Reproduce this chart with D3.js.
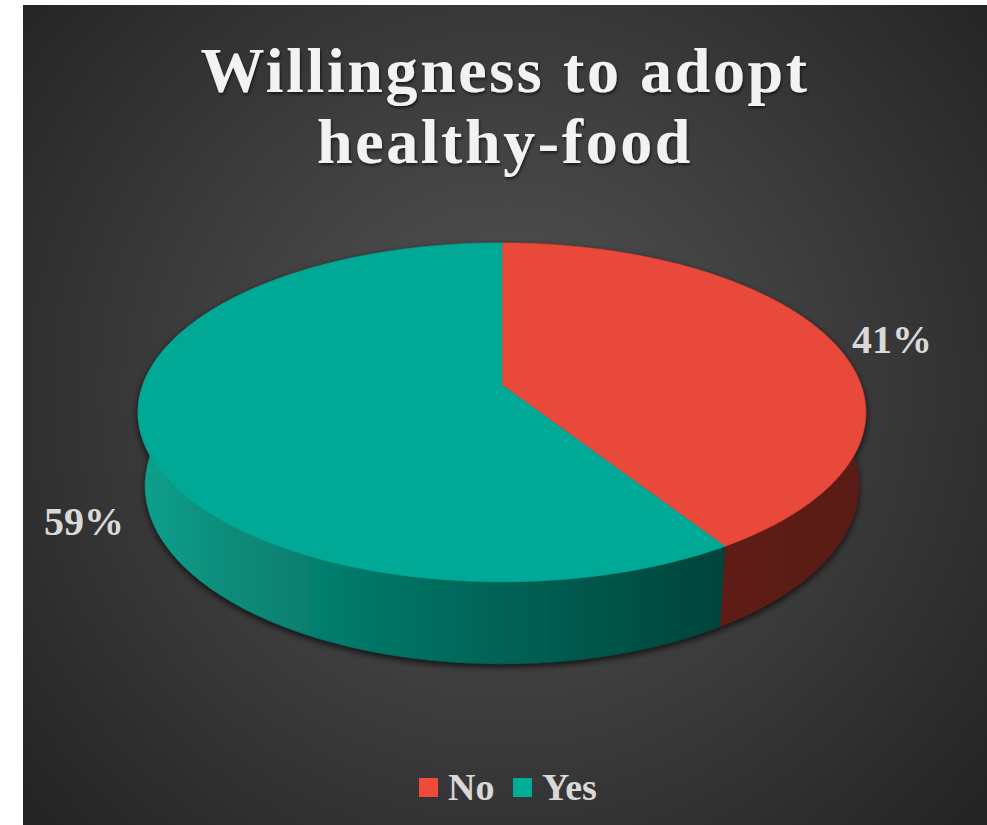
<!DOCTYPE html>
<html>
<head>
<meta charset="utf-8">
<script src="https://cdn.jsdelivr.net/npm/d3@7"></script>
<style>
  html, body { margin: 0; padding: 0; background: #ffffff; }
  svg { display: block; }
</style>
</head>
<body>
<svg id="chart" width="987" height="825"></svg>
<script>
// Survey answers and their shares (percent)
const categories = ["No", "Yes"];
const values = [41, 59];
const titleLines = ["Willingness to adopt", "healthy-food"];

const W = 987, H = 825;
const svg = d3.select("#chart");
const defs = svg.append("defs");

// Panel background: radial glow, lighter in the middle
const bg = defs.append("radialGradient").attr("id", "bgGlow")
  .attr("gradientUnits", "userSpaceOnUse")
  .attr("cx", 505).attr("cy", 390).attr("r", 620);
bg.append("stop").attr("offset", 0).attr("stop-color", "#555555");
bg.append("stop").attr("offset", 0.55).attr("stop-color", "#3b3b3b");
bg.append("stop").attr("offset", 1).attr("stop-color", "#252525");

svg.append("rect").attr("x", 23).attr("y", 5).attr("width", W - 23).attr("height", H - 5)
  .attr("fill", "url(#bgGlow)");

// Soft shadows
const sh = defs.append("filter").attr("id", "pieShadow")
  .attr("x", "-10%").attr("y", "-10%").attr("width", "120%").attr("height", "130%");
sh.append("feDropShadow").attr("dx", 0).attr("dy", 3).attr("stdDeviation", 3.5)
  .attr("flood-color", "#000").attr("flood-opacity", 0.75);
const tsh = defs.append("filter").attr("id", "textShadow")
  .attr("x", "-10%").attr("y", "-20%").attr("width", "120%").attr("height", "150%");
tsh.append("feDropShadow").attr("dx", 1).attr("dy", 2).attr("stdDeviation", 1.5)
  .attr("flood-color", "#000").attr("flood-opacity", 0.6);

// Colours per category
const color = d3.scaleOrdinal().domain(categories).range(["#e9483b", "#00a995"]);

// Side wall shading
const teal = defs.append("linearGradient").attr("id", "sideYes")
  .attr("gradientUnits", "userSpaceOnUse").attr("x1", 138).attr("x2", 730).attr("y1", 0).attr("y2", 0);
teal.append("stop").attr("offset", 0).attr("stop-color", "#12a28d");
teal.append("stop").attr("offset", 0.15).attr("stop-color", "#0a8c7a");
teal.append("stop").attr("offset", 0.55).attr("stop-color", "#00685a");
teal.append("stop").attr("offset", 1).attr("stop-color", "#00433a");
const red = defs.append("linearGradient").attr("id", "sideNo")
  .attr("gradientUnits", "userSpaceOnUse").attr("x1", 725).attr("x2", 866).attr("y1", 0).attr("y2", 0);
red.append("stop").attr("offset", 0).attr("stop-color", "#5e1e18");
red.append("stop").attr("offset", 1).attr("stop-color", "#5a1d17");
const sideFill = { No: "url(#sideNo)", Yes: "url(#sideYes)" };

// Perspective projection of the disc: angle measured clockwise from 12 o'clock,
// z = 0 for the top face, 1 for the bottom rim.
const P = { cx: 502, cy: 385, R: 359, A: 165, T: 74, k: 0.1616, m: 0.0194 };
function project(theta, z) {
  const u = Math.sin(theta), w = -Math.cos(theta);
  const s = 1 / (1 - P.k * w + P.m * z);
  return [P.cx + P.R * u * s, P.cy + (P.A * w + P.T * z) * s];
}
function arcPoints(a0, a1, z) {
  const n = Math.max(8, Math.ceil((a1 - a0) / 0.01));
  return d3.range(n + 1).map(i => project(a0 + (a1 - a0) * i / n, z));
}

const pie = d3.pie().sort(null).value(d => d.value).startAngle(0).endAngle(2 * Math.PI);
const arcs = pie(categories.map((c, i) => ({ cat: c, value: values[i] })));
const line = d3.line();

const g = svg.append("g").attr("filter", "url(#pieShadow)");

// Outer walls
arcs.forEach(a => {
  const top = arcPoints(a.startAngle, a.endAngle, 0);
  const bot = arcPoints(a.startAngle, a.endAngle, 1).reverse();
  g.append("path").attr("d", line(top.concat(bot)) + "Z")
    .attr("fill", sideFill[a.data.cat])
    .attr("stroke", sideFill[a.data.cat]).attr("stroke-width", 0.6);
});
// Top faces
arcs.forEach(a => {
  const pts = [[P.cx, P.cy]].concat(arcPoints(a.startAngle, a.endAngle, 0));
  g.append("path").attr("d", line(pts) + "Z")
    .attr("fill", color(a.data.cat))
    .attr("stroke", color(a.data.cat)).attr("stroke-width", 0.6);
});

// Percentage labels
const labelFont = "'Liberation Serif', 'Times New Roman', serif";
const labelPos = { No: [892, 353], Yes: [84, 535] };
arcs.forEach(a => {
  const [x, y] = labelPos[a.data.cat];
  svg.append("text").attr("x", x).attr("y", y).attr("text-anchor", "middle")
    .attr("font-family", labelFont).attr("font-weight", "bold").attr("font-size", 40)
    .attr("fill", "#d9d9d9")
    .text(d3.format(".0%")(a.data.value / d3.sum(values)));
});

// Title
svg.append("g").attr("filter", "url(#textShadow)")
  .selectAll("text").data(titleLines).join("text")
  .attr("x", 505).attr("y", (d, i) => 92 + i * 71).attr("text-anchor", "middle")
  .attr("font-family", labelFont).attr("font-weight", "bold").attr("font-size", 64)
  .attr("letter-spacing", 2.6)
  .attr("fill", "#f2f2f2").text(d => d);

// Legend
const legend = svg.append("g");
const legendX = [419, 513];
categories.forEach((c, i) => {
  legend.append("rect").attr("x", legendX[i]).attr("y", 778).attr("width", 19).attr("height", 19)
    .attr("fill", c === "No" ? "#f04a3d" : "#00ae98");
  legend.append("text").attr("x", legendX[i] + 29).attr("y", 800)
    .attr("font-family", labelFont).attr("font-weight", "bold").attr("font-size", 38)
    .attr("fill", "#d9d9d9").text(c);
});
</script>
</body>
</html>
